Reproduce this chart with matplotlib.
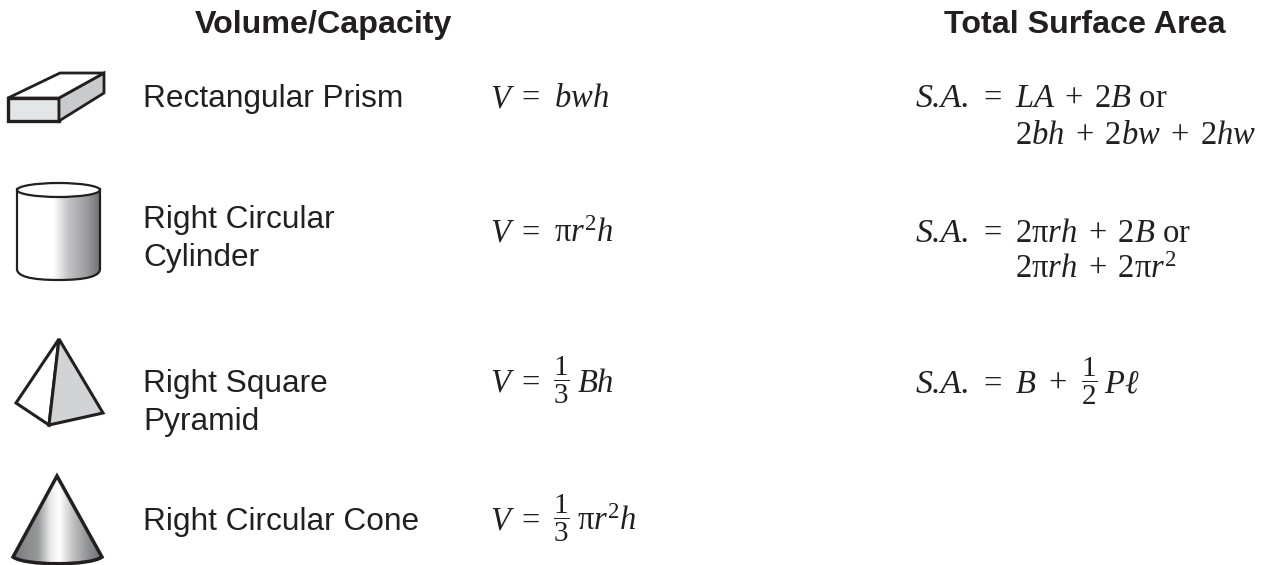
import numpy as np
import matplotlib
matplotlib.use("Agg")
import matplotlib.pyplot as plt
from matplotlib.patches import Polygon, PathPatch, Ellipse
from matplotlib.path import Path
from matplotlib.colors import LinearSegmentedColormap

plt.rcParams['mathtext.fontset'] = 'custom'
plt.rcParams['mathtext.rm'] = 'Liberation Serif'
plt.rcParams['mathtext.it'] = 'Liberation Serif:italic'
plt.rcParams['mathtext.bf'] = 'Liberation Serif:bold'

headers = ["Volume/Capacity", "Total Surface Area"]
name_lines = ["Rectangular Prism", "Right Circular", "Cylinder", "Right Square", "Pyramid", "Right Circular Cone"]
vol_rest = [r"$bwh$", r"$\mathrm{\pi} r^{2}h$", r"$Bh$", r"$\mathrm{\pi} r^{2}h$"]
frac_third = r"$\dfrac{1}{3}$"
frac_half = r"$\dfrac{1}{2}$"
sa_label = "S.A."
area_lines = [r"$LA\;+\;2B$ or", r"$2bh\;+\;2bw\;+\;2hw$",
              r"$2\mathrm{\pi} rh\;+\;2B$ or", r"$2\mathrm{\pi} rh\;+\;2\mathrm{\pi} r^{2}$"]

W, H = 1268, 565
fig = plt.figure(figsize=(W/100, H/100), dpi=100, facecolor='white')
ax = fig.add_axes([0, 0, 1, 1])
ax.set_xlim(0, W); ax.set_ylim(H, 0); ax.axis('off')

INK = '#231f20'
SANS = 'Liberation Sans'
SERIF = 'Liberation Serif'
FS = 22.8
FB = 23.2
MS = 23.5
FR = 21

def serif(x, y, s, size=MS, **kw):
    ax.text(x, y, s, fontsize=size, color=INK, va='baseline', family=SERIF, **kw)

# headers
ax.text(323, 33, headers[0], family=SANS, fontsize=FB, fontweight='bold', color=INK, ha='center', va='baseline')
ax.text(1085, 33, headers[1], family=SANS, fontsize=FB, fontweight='bold', color=INK, ha='center', va='baseline')

# names
for s, y in zip(name_lines, [107, 228, 266, 392, 430, 530]):
    ax.text(143, y, s, family=SANS, fontsize=FS, color=INK, va='baseline')

# volume column
v_base = [107, 242, 392, 530]
for y in v_base:
    serif(490, y, "V", style='italic')
    serif(521, y, "=")
serif(554, v_base[0], vol_rest[0])
serif(554, v_base[1], vol_rest[1])
serif(553, v_base[2] - 2, frac_third, FR)
serif(577, v_base[2], vol_rest[2])
serif(553, v_base[3] - 2, frac_third, FR)
serif(577, v_base[3], vol_rest[3])

# surface area column
a_base = [107, 242, 393]
for y in a_base:
    serif(916, y, sa_label, 24.5, style='italic')
    serif(983, y, "=")
serif(1015, 107, area_lines[0])
serif(1015, 144, area_lines[1])
serif(1015, 242, area_lines[2])
serif(1015, 278, area_lines[3])
serif(1015, 393, r"$B$")
serif(1048, 393, "+")
serif(1081, 391, frac_half, FR)
serif(1104, 393, r"$P\ell$")

LW = 2.0
# prism
ax.add_patch(Polygon([(8, 98), (59, 98), (59, 121), (8, 121)], fc='#e4e5e6', ec=INK, lw=LW+0.4, joinstyle='miter'))
ax.add_patch(Polygon([(59, 98), (104, 73), (104, 93), (59, 121)], fc='#c8cacc', ec=INK, lw=LW, joinstyle='miter'))
ax.add_patch(Polygon([(8, 98), (60, 73), (104, 73), (59, 98)], fc='white', ec=INK, lw=LW, joinstyle='miter'))

# cylinder
cyl_x0, cyl_x1, cyl_top, cyl_bot = 17, 100, 189, 269
cyl_cmap = LinearSegmentedColormap.from_list('cyl', [(0, '#ffffff'), (0.44, '#ffffff'), (0.62, '#c4c4c6'), (0.85, '#9a9a9c'), (1, '#6f6f71')])
k = 0.5523
cv = Path([(cyl_x0, cyl_top), (cyl_x0, cyl_bot),
           (cyl_x0, cyl_bot+7), (cyl_x0+k*41.5-10, cyl_bot+11), (58.5, cyl_bot+11),
           (cyl_x1-k*41.5+10, cyl_bot+11), (cyl_x1, cyl_bot+7), (cyl_x1, cyl_bot),
           (cyl_x1, cyl_top), (cyl_x0, cyl_top)],
          [Path.MOVETO, Path.LINETO, Path.CURVE4, Path.CURVE4, Path.CURVE4, Path.CURVE4, Path.CURVE4, Path.CURVE4, Path.LINETO, Path.CLOSEPOLY])
g = np.linspace(0, 1, 256).reshape(1, -1)
im = ax.imshow(g, extent=(cyl_x0, cyl_x1, cyl_bot+11, cyl_top), cmap=cyl_cmap, aspect='auto', zorder=1)
p = PathPatch(cv, fc='none', ec=INK, lw=1.6, zorder=2)
ax.add_patch(p); im.set_clip_path(p)
ax.add_patch(Ellipse((58.5, 190), 83, 14, fc='white', ec=INK, lw=1.6, zorder=3))

# pyramid
ax.add_patch(Polygon([(59, 339), (16, 403), (49, 425)], fc='white', ec=INK, lw=LW+0.2, joinstyle='miter'))
ax.add_patch(Polygon([(59, 339), (103, 413), (49, 425)], fc='#d1d3d4', ec=INK, lw=LW+0.2, joinstyle='miter'))

# cone
con_cmap = LinearSegmentedColormap.from_list('cone', [(0, '#77787a'), (0.28, '#98999b'), (0.42, '#e8e8e8'), (0.52, '#ffffff'), (0.68, '#c0c0c2'), (0.85, '#8e8f91'), (1, '#6d6e70')])
cn = Path([(57, 476), (13, 557), (25, 566), (90, 566), (102, 557), (57, 476)],
          [Path.MOVETO, Path.LINETO, Path.CURVE4, Path.CURVE4, Path.CURVE4, Path.CLOSEPOLY])
im2 = ax.imshow(g, extent=(13, 102, 566, 476), cmap=con_cmap, aspect='auto', zorder=1)
p2 = PathPatch(cn, fc='none', ec=INK, lw=LW+0.5, zorder=2, joinstyle='miter')
ax.add_patch(p2); im2.set_clip_path(p2)
ax.set_xlim(0, W); ax.set_ylim(H, 0)

fig.savefig('out.png', dpi=100)
